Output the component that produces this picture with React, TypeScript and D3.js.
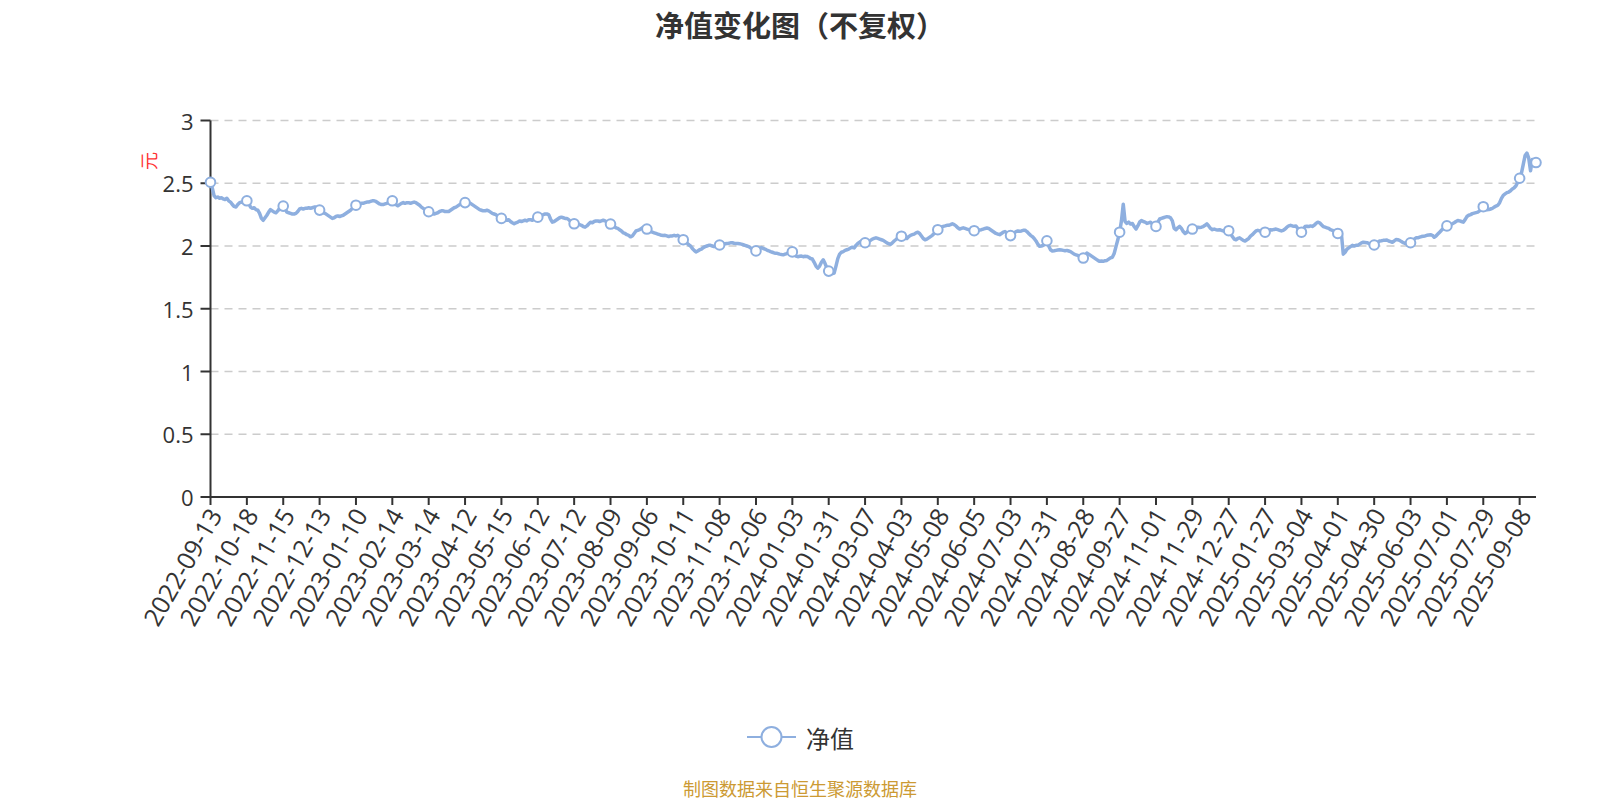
import * as d3 from "d3";

// Tick labels shown on the category axis (one every 20 trading days)
const tickDates = [
  "2022-09-13", "2022-10-18", "2022-11-15", "2022-12-13", "2023-01-10", "2023-02-14",
  "2023-03-14", "2023-04-12", "2023-05-15", "2023-06-12", "2023-07-12", "2023-08-09",
  "2023-09-06", "2023-10-11", "2023-11-08", "2023-12-06", "2024-01-03", "2024-01-31",
  "2024-03-07", "2024-04-03", "2024-05-08", "2024-06-05", "2024-07-03", "2024-07-31",
  "2024-08-28", "2024-09-27", "2024-11-01", "2024-11-29", "2024-12-27", "2025-01-27",
  "2025-03-04", "2025-04-01", "2025-04-30", "2025-06-03", "2025-07-01", "2025-07-29",
  "2025-09-08",
];
const labelStep = 20;

// 净值 (元), one value per trading day
const navValues = [
  // 2022-09-13
  2.508, 2.46, 2.4, 2.385, 2.39, 2.38, 2.385, 2.375, 2.37, 2.38, 2.36, 2.35, 2.33, 2.315, 2.31, 2.33, 2.345, 2.35, 2.345, 2.355,
  // 2022-10-18
  2.36, 2.34, 2.31, 2.3, 2.305, 2.29, 2.285, 2.26, 2.22, 2.205, 2.225, 2.245, 2.27, 2.29, 2.28, 2.27, 2.265, 2.28, 2.3, 2.31,
  // 2022-11-15
  2.318, 2.295, 2.27, 2.265, 2.26, 2.255, 2.255, 2.26, 2.275, 2.295, 2.3, 2.295, 2.3, 2.3, 2.305, 2.3, 2.305, 2.31, 2.31, 2.3,
  // 2022-12-13
  2.286, 2.275, 2.265, 2.26, 2.25, 2.24, 2.23, 2.22, 2.225, 2.235, 2.24, 2.235, 2.24, 2.245, 2.255, 2.265, 2.275, 2.285, 2.3, 2.315,
  // 2023-01-10
  2.325, 2.33, 2.335, 2.34, 2.34, 2.345, 2.35, 2.35, 2.355, 2.36, 2.36, 2.355, 2.345, 2.335, 2.33, 2.33, 2.335, 2.34, 2.35, 2.355,
  // 2023-02-14
  2.36, 2.345, 2.33, 2.32, 2.33, 2.34, 2.346, 2.34, 2.345, 2.345, 2.34, 2.345, 2.35, 2.345, 2.335, 2.325, 2.31, 2.3, 2.29, 2.28,
  // 2023-03-14
  2.273, 2.265, 2.26, 2.255, 2.26, 2.265, 2.275, 2.28, 2.28, 2.275, 2.275, 2.275, 2.285, 2.295, 2.305, 2.31, 2.32, 2.33, 2.335, 2.34,
  // 2023-04-12
  2.346, 2.345, 2.34, 2.34, 2.33, 2.32, 2.31, 2.3, 2.29, 2.285, 2.28, 2.28, 2.285, 2.28, 2.27, 2.26, 2.255, 2.25, 2.235, 2.225,
  // 2023-05-15
  2.22, 2.215, 2.21, 2.205, 2.21, 2.195, 2.185, 2.177, 2.185, 2.19, 2.2, 2.195, 2.2, 2.205, 2.2, 2.21, 2.21, 2.205, 2.215, 2.225,
  // 2023-06-12
  2.23, 2.235, 2.24, 2.25, 2.255, 2.255, 2.25, 2.215, 2.19, 2.195, 2.205, 2.215, 2.225, 2.23, 2.225, 2.22, 2.22, 2.21, 2.195, 2.185,
  // 2023-07-12
  2.177, 2.175, 2.175, 2.17, 2.165, 2.155, 2.15, 2.16, 2.175, 2.19, 2.185, 2.195, 2.2, 2.2, 2.195, 2.2, 2.205, 2.2, 2.19, 2.18,
  // 2023-08-09
  2.175, 2.165, 2.155, 2.145, 2.14, 2.13, 2.12, 2.105, 2.1, 2.09, 2.085, 2.073, 2.08, 2.1, 2.12, 2.125, 2.13, 2.14, 2.15, 2.145,
  // 2023-09-06
  2.135, 2.125, 2.115, 2.11, 2.105, 2.1, 2.095, 2.09, 2.085, 2.083, 2.085, 2.08, 2.075, 2.08, 2.08, 2.085, 2.08, 2.085, 2.075, 2.06,
  // 2023-10-11
  2.05, 2.04, 2.025, 2.01, 2.0, 1.98, 1.965, 1.953, 1.96, 1.97, 1.975, 1.987, 1.995, 2.0, 2.005, 2.005, 2.0, 1.995, 1.998, 2.005,
  // 2023-11-08
  2.008, 2.012, 2.015, 2.018, 2.02, 2.022, 2.025, 2.026, 2.022, 2.02, 2.02, 2.018, 2.015, 2.01, 2.005, 2.0, 1.995, 1.985, 1.975, 1.965,
  // 2023-12-06
  1.961, 1.97, 1.98, 1.987, 1.98, 1.975, 1.968, 1.962, 1.955, 1.95, 1.945, 1.943, 1.94, 1.935, 1.932, 1.93, 1.935, 1.94, 1.948, 1.955,
  // 2024-01-03
  1.953, 1.935, 1.92, 1.915, 1.918, 1.92, 1.915, 1.918, 1.917, 1.91, 1.9, 1.896, 1.87, 1.84, 1.823, 1.84, 1.87, 1.89, 1.86, 1.825,
  // 2024-01-31
  1.8, 1.79, 1.78, 1.785, 1.84, 1.9, 1.935, 1.95, 1.955, 1.965, 1.97, 1.975, 1.985, 1.99, 1.985, 2.005, 2.02, 2.03, 2.04, 2.035,
  // 2024-03-07
  2.026, 2.035, 2.04, 2.045, 2.055, 2.06, 2.065, 2.06, 2.055, 2.05, 2.045, 2.035, 2.025, 2.018, 2.013, 2.025, 2.04, 2.052, 2.065, 2.072,
  // 2024-04-03
  2.078, 2.07, 2.062, 2.06, 2.075, 2.085, 2.09, 2.095, 2.105, 2.11, 2.1, 2.08, 2.06, 2.05, 2.055, 2.065, 2.075, 2.085, 2.1, 2.115,
  // 2024-05-08
  2.13, 2.14, 2.15, 2.156, 2.16, 2.165, 2.165, 2.17, 2.177, 2.17, 2.16, 2.145, 2.135, 2.14, 2.145, 2.14, 2.135, 2.13, 2.125, 2.12,
  // 2024-06-05
  2.122, 2.124, 2.125, 2.128, 2.13, 2.135, 2.14, 2.143, 2.14, 2.13, 2.12, 2.11, 2.1, 2.095, 2.09, 2.1, 2.11, 2.115, 2.105, 2.095,
  // 2024-07-03
  2.083, 2.095, 2.105, 2.115, 2.12, 2.118, 2.12, 2.125, 2.125, 2.115, 2.1, 2.085, 2.075, 2.06, 2.04, 2.015, 1.998, 2.0, 2.005, 2.02,
  // 2024-07-31
  2.042, 2.0, 1.97, 1.96, 1.962, 1.965, 1.968, 1.97, 1.968, 1.965, 1.962, 1.965, 1.96, 1.955, 1.945, 1.935, 1.93, 1.925, 1.915, 1.91,
  // 2024-08-28
  1.904, 1.925, 1.943, 1.935, 1.925, 1.915, 1.905, 1.895, 1.885, 1.878, 1.88, 1.878, 1.883, 1.885, 1.895, 1.905, 1.91, 1.94, 1.995, 2.05,
  // 2024-09-27
  2.11, 2.2, 2.333, 2.195, 2.18, 2.19, 2.175, 2.18, 2.155, 2.135, 2.16, 2.19, 2.203, 2.195, 2.19, 2.18, 2.185, 2.19, 2.175, 2.165,
  // 2024-11-01
  2.156, 2.19, 2.215, 2.22, 2.225, 2.23, 2.234, 2.232, 2.225, 2.2, 2.14, 2.13, 2.145, 2.156, 2.14, 2.115, 2.1, 2.11, 2.13, 2.15,
  // 2024-11-29
  2.135, 2.14, 2.145, 2.15, 2.148, 2.15, 2.155, 2.165, 2.177, 2.16, 2.14, 2.13, 2.135, 2.13, 2.128, 2.13, 2.125, 2.12, 2.117, 2.12,
  // 2024-12-27
  2.122, 2.1, 2.075, 2.055, 2.05, 2.06, 2.065, 2.055, 2.045, 2.04, 2.05, 2.06, 2.078, 2.09, 2.105, 2.12, 2.125, 2.12, 2.115, 2.11,
  // 2025-01-27
  2.11, 2.12, 2.125, 2.13, 2.128, 2.132, 2.135, 2.13, 2.125, 2.12, 2.125, 2.135, 2.15, 2.16, 2.165, 2.16, 2.158, 2.16, 2.14, 2.12,
  // 2025-03-04
  2.11, 2.135, 2.155, 2.158, 2.155, 2.16, 2.156, 2.165, 2.18, 2.19, 2.185, 2.17, 2.155, 2.15, 2.145, 2.14, 2.13, 2.125, 2.115, 2.105,
  // 2025-04-01
  2.1, 2.1, 2.095, 1.935, 1.95, 1.974, 1.985, 1.995, 2.005, 2.0, 2.005, 2.005, 2.015, 2.025, 2.03, 2.028, 2.026, 2.02, 2.015, 2.01,
  // 2025-04-30
  2.008, 2.02, 2.03, 2.04, 2.042, 2.045, 2.045, 2.047, 2.04, 2.035, 2.03, 2.04, 2.052, 2.05, 2.045, 2.035, 2.026, 2.02, 2.02, 2.022,
  // 2025-06-03
  2.026, 2.04, 2.055, 2.065, 2.065, 2.07, 2.075, 2.078, 2.08, 2.085, 2.088, 2.09, 2.085, 2.07, 2.08, 2.095, 2.11, 2.125, 2.14, 2.15,
  // 2025-07-01
  2.16, 2.165, 2.17, 2.177, 2.185, 2.195, 2.203, 2.2, 2.195, 2.19, 2.21, 2.235, 2.245, 2.25, 2.258, 2.262, 2.266, 2.27, 2.28, 2.295,
  // 2025-07-29
  2.313, 2.3, 2.288, 2.29, 2.295, 2.3, 2.31, 2.318, 2.325, 2.345, 2.38, 2.404, 2.415, 2.425, 2.43, 2.44, 2.455, 2.464, 2.48, 2.51,
  // 2025-09-08
  2.54, 2.58, 2.65, 2.72, 2.74, 2.7, 2.6, 2.69, 2.68, 2.665,
];

const yTickValues = [0, 0.5, 1, 1.5, 2, 2.5, 3];

const lineColor = "#8eafdf";
const axisColor = "#333";
const numFont = "'Open Sans', 'Noto Sans CJK SC', sans-serif";
const cjkFont = "'Noto Sans CJK SC', sans-serif";

export default function App() {
  const width = 1600;
  const height = 800;
  const margin = { top: 120.5, right: 64, bottom: 303, left: 210.5 };

  const x = d3
    .scaleLinear()
    .domain([0, navValues.length - 1])
    .range([margin.left, width - margin.right]);

  const y = d3
    .scaleLinear()
    .domain([0, 3])
    .range([height - margin.bottom, margin.top]);

  const line = d3
    .line<number>()
    .x((_, i) => x(i))
    .y((d) => y(d));

  const tickIdx = tickDates.map((_, i) => i * labelStep);
  const symbolIdx = [...tickIdx, navValues.length - 1];
  const x0 = x(0);
  const x1 = x(navValues.length - 1);
  const yBase = y(0);

  return (
    <svg
      width={width}
      height={height}
      style={{ position: "absolute", left: 0, top: 0, background: "#fff" }}
    >
      {/* Title */}
      <text
        x={800}
        y={24}
        textAnchor="middle"
        dominantBaseline="central"
        fontFamily={cjkFont}
        fontWeight="bold"
        fontSize={29}
        fill="#333"
      >
        净值变化图（不复权）
      </text>

      {/* Gridlines */}
      {yTickValues
        .filter((v) => v > 0)
        .map((v) => (
          <line
            key={"g" + v}
            x1={x0}
            x2={x1}
            y1={y(v)}
            y2={y(v)}
            stroke="#ccc"
            strokeWidth={1.5}
            strokeDasharray="8,6"
          />
        ))}

      {/* Y axis */}
      <line x1={x0} x2={x0} y1={y(3)} y2={yBase} stroke={axisColor} strokeWidth={2} />
      {yTickValues.map((v) => (
        <g key={"y" + v}>
          <line x1={x0 - 10} x2={x0} y1={y(v)} y2={y(v)} stroke={axisColor} strokeWidth={2} />
          <text
            x={x0 - 17}
            y={y(v)}
            textAnchor="end"
            dominantBaseline="central"
            fontFamily={numFont}
            fontSize={22}
            fill="#333"
          >
            {String(v)}
          </text>
        </g>
      ))}
      <text
        transform={`translate(148,161) rotate(-90)`}
        textAnchor="middle"
        dominantBaseline="central"
        fontFamily={cjkFont}
        fontSize={18}
        fill="#f33"
      >
        元
      </text>

      {/* X axis */}
      <line x1={x0} x2={x1} y1={yBase} y2={yBase} stroke={axisColor} strokeWidth={2} />
      {tickIdx.map((idx, i) => (
        <g key={"x" + idx}>
          <line x1={x(idx)} x2={x(idx)} y1={yBase} y2={yBase + 8} stroke={axisColor} strokeWidth={2} />
          <text
            transform={`translate(${x(idx) + 4},${yBase + 13}) rotate(-60)`}
            textAnchor="end"
            dominantBaseline="central"
            fontFamily={numFont}
            fontSize={25}
            fill="#333"
          >
            {tickDates[i]}
          </text>
        </g>
      ))}

      {/* Series */}
      <path d={line(navValues) ?? ""} fill="none" stroke={lineColor} strokeWidth={3.5} strokeLinejoin="round" />
      {symbolIdx.map((idx) => (
        <circle
          key={"s" + idx}
          cx={x(idx)}
          cy={y(navValues[idx])}
          r={4.8}
          fill="#fff"
          stroke={lineColor}
          strokeWidth={2}
        />
      ))}

      {/* Legend */}
      <line x1={747} x2={796} y1={737} y2={737} stroke={lineColor} strokeWidth={2} />
      <circle cx={771.5} cy={737} r={10} fill="#fff" stroke={lineColor} strokeWidth={2} />
      <text
        x={806}
        y={737}
        dominantBaseline="central"
        fontFamily={cjkFont}
        fontSize={24}
        fill="#333"
      >
        净值
      </text>

      {/* Source note */}
      <text
        x={800}
        y={788}
        textAnchor="middle"
        dominantBaseline="central"
        fontFamily={cjkFont}
        fontSize={18}
        fill="#cc9a33"
      >
        制图数据来自恒生聚源数据库
      </text>
    </svg>
  );
}
